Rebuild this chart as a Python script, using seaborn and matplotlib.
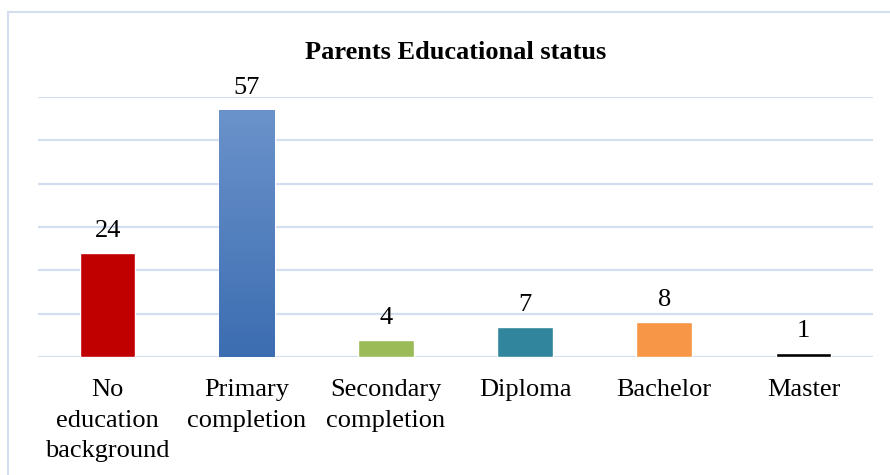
import matplotlib
matplotlib.use("Agg")
import matplotlib.pyplot as plt
import numpy as np
import pandas as pd
import seaborn as sns
from matplotlib.colors import LinearSegmentedColormap
from matplotlib.patches import Rectangle

categories = ["No\neducation\nbackground", "Primary\ncompletion", "Secondary\ncompletion",
              "Diploma", "Bachelor", "Master"]
counts = [24, 57, 4, 7, 8, 1]
bar_colors = ["#C00000", "#4F81BD", "#9BBB59", "#31859C", "#F79646", "#000000"]
title = "Parents Educational status"

GRID = "#D3DFF0"

sns.set_theme(style="white")
plt.rcParams['font.family'] = ['Liberation Serif', 'DejaVu Serif']

df = pd.DataFrame({"level": categories, "count": counts})

fig = plt.figure(figsize=(8.9, 4.75), dpi=100)
ax = fig.add_axes([38 / 890, 1 - 357 / 475, 835 / 890, 260 / 475])

sns.barplot(data=df, x="level", y="count", hue="level", palette=bar_colors,
            width=0.4, legend=False, saturation=1, ax=ax)

# gradient fill on the primary completion bar
blue = ax.patches[1]
bb = blue.get_bbox()
cmap = LinearSegmentedColormap.from_list("blu", ["#3C6DB1", "#6B93CB"])
grad = np.linspace(0, 1, 256).reshape(-1, 1)
im = ax.imshow(grad, cmap=cmap, origin="lower", aspect="auto",
               extent=[bb.x0, bb.x1, bb.y0, bb.y1], zorder=blue.get_zorder() + 0.1)
im.set_clip_path(blue)

ax.set_xlim(-0.5, len(categories) - 0.5)
ax.set_ylim(0, 60)
ax.set_yticks(np.arange(0, 61, 10))
ax.yaxis.grid(True, color=GRID, linewidth=1.6)
ax.set_axisbelow(True)
ax.tick_params(axis="y", left=False, labelleft=False)
ax.tick_params(axis="x", bottom=False, labelsize=19, pad=10, colors="black")
for lbl in ax.get_xticklabels():
    lbl.set_linespacing(1.5)
for s in ax.spines.values():
    s.set_visible(False)
ax.set_xlabel("")
ax.set_ylabel("")

for p, v in zip(ax.patches[:len(counts)], counts):
    ax.annotate(str(v), (p.get_x() + p.get_width() / 2, p.get_height()),
                xytext=(0, 8), textcoords="offset points", ha="center", va="bottom",
                fontsize=19, color="black")

ax.set_title(title, fontsize=19, fontweight="bold", color="black", pad=27)

# chart frame
fig.patches.append(Rectangle((8 / 890, -0.1), 1.2, 1 - 12 / 475 + 0.1,
                             transform=fig.transFigure, fill=False,
                             edgecolor=GRID, linewidth=1.5))

fig.savefig("out.png", dpi=100)
